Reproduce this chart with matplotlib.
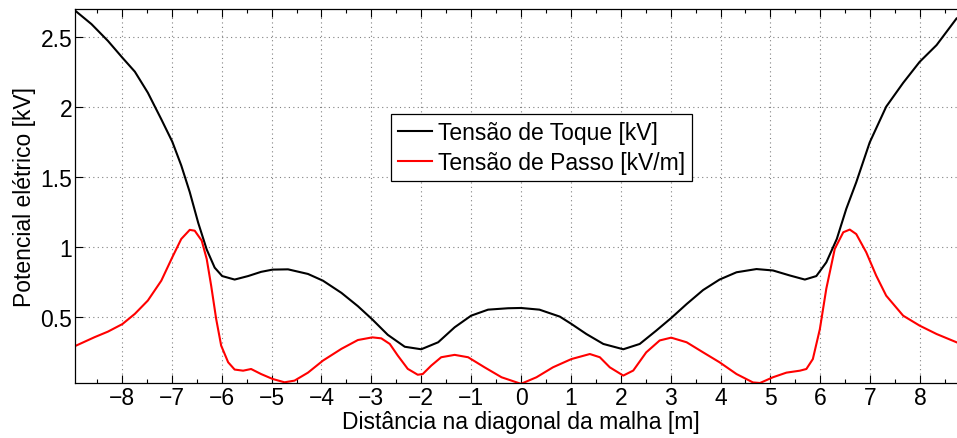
import numpy as np
import matplotlib
matplotlib.use('Agg')
import matplotlib.pyplot as plt
from matplotlib.ticker import MultipleLocator, FormatStrFormatter

plt.rcParams['font.family'] = ['Liberation Sans', 'DejaVu Sans']

# Tensao de toque [kV]
toque_x = [-8.95, -8.61, -8.28, -7.99, -7.74, -7.48, -7.21, -6.99, -6.81, -6.64,
           -6.47, -6.30, -6.14, -5.99, -5.74, -5.47, -5.21, -4.98, -4.67, -4.27,
           -3.97, -3.60, -3.27, -2.98, -2.67, -2.33, -2.00, -1.66, -1.33, -1.00,
           -0.66, -0.26, 0.00, 0.37, 0.78, 1.01, 1.31, 1.65, 2.05, 2.38,
           2.71, 3.01, 3.32, 3.65, 3.98, 4.32, 4.72, 5.05, 5.39, 5.69,
           5.92, 6.12, 6.33, 6.52, 6.72, 6.99, 7.32, 7.66, 7.99, 8.33,
           8.73]
toque_y = [2.69, 2.59, 2.47, 2.35, 2.25, 2.10, 1.91, 1.75, 1.58, 1.39,
           1.17, 0.98, 0.85, 0.79, 0.765, 0.79, 0.82, 0.836, 0.838, 0.805,
           0.757, 0.67, 0.575, 0.48, 0.37, 0.285, 0.267, 0.317, 0.424, 0.507,
           0.55, 0.56, 0.562, 0.55, 0.50, 0.448, 0.376, 0.305, 0.267, 0.305,
           0.40, 0.49, 0.59, 0.69, 0.765, 0.817, 0.84, 0.83, 0.794, 0.765,
           0.79, 0.888, 1.055, 1.27, 1.46, 1.745, 2.00, 2.17, 2.32, 2.44,
           2.63]

# Tensao de passo [kV/m]
passo_x = [-8.95, -8.55, -8.28, -7.99, -7.74, -7.48, -7.21, -6.99, -6.81, -6.64,
           -6.54, -6.40, -6.30, -6.21, -6.11, -6.01, -5.87, -5.74, -5.57, -5.41,
           -5.21, -4.98, -4.74, -4.54, -4.27, -3.97, -3.60, -3.27, -2.98, -2.80,
           -2.63, -2.47, -2.27, -2.07, -1.97, -1.80, -1.60, -1.33, -1.06, -0.73,
           -0.39, 0.00, 0.31, 0.64, 1.01, 1.38, 1.58, 1.78, 2.05, 2.25,
           2.51, 2.78, 3.01, 3.32, 3.65, 3.98, 4.32, 4.65, 4.79, 5.05,
           5.32, 5.59, 5.72, 5.85, 5.99, 6.12, 6.29, 6.46, 6.59, 6.72,
           6.92, 7.12, 7.32, 7.66, 7.99, 8.33, 8.73]
passo_y = [0.288, 0.353, 0.393, 0.447, 0.52, 0.615, 0.757, 0.924, 1.055, 1.12,
           1.114, 1.043, 0.912, 0.72, 0.483, 0.293, 0.174, 0.122, 0.114, 0.126,
           0.09, 0.055, 0.031, 0.043, 0.10, 0.186, 0.27, 0.333, 0.352, 0.345,
           0.305, 0.222, 0.127, 0.085, 0.09, 0.15, 0.21, 0.227, 0.21, 0.138,
           0.067, 0.02, 0.067, 0.138, 0.197, 0.233, 0.21, 0.138, 0.079, 0.115,
           0.245, 0.33, 0.35, 0.317, 0.245, 0.174, 0.09, 0.03, 0.026, 0.067,
           0.10, 0.114, 0.126, 0.197, 0.41, 0.70, 0.985, 1.103, 1.122, 1.09,
           0.96, 0.793, 0.65, 0.507, 0.436, 0.376, 0.317]

fs = 16.5

fig = plt.figure(figsize=(9.57, 4.39), dpi=100)
# eixo vai um pouco alem da borda direita (imagem cortada)
ax = fig.add_axes([75 / 957, 55 / 439, 892 / 957, 374.3 / 439])

ax.plot(toque_x, toque_y, color='black', lw=1.5, label='Tensão de Toque [kV]')
ax.plot(passo_x, passo_y, color='#ff0000', lw=1.5, label='Tensão de Passo [kV/m]')

ax.set_xlim(-8.94, 8.94)
ax.set_ylim(0.026, 2.70)
ax.xaxis.set_major_locator(MultipleLocator(1))
ax.xaxis.set_minor_locator(MultipleLocator(0.5))
ax.set_yticks([0.5, 1, 1.5, 2, 2.5])
ax.yaxis.set_major_formatter(FormatStrFormatter('%g'))

ax.grid(True, which='major', color='#808080', linestyle=(0, (1, 3)), lw=0.8)
ax.tick_params(which='both', direction='in', top=True, right=True, labelsize=fs, width=0.8)
ax.tick_params(which='major', length=6)
ax.tick_params(which='minor', length=3)
ax.tick_params(axis='x', pad=2)
ax.tick_params(axis='y', pad=2)
for s in ax.spines.values():
    s.set_linewidth(0.9)

ax.set_xlabel('Distância na diagonal da malha [m]', fontsize=fs, labelpad=1)
ax.set_ylabel('Potencial elétrico [kV]', fontsize=fs, labelpad=3)

leg = fig.legend(loc='upper left', bbox_to_anchor=(391 / 957, 1 - 115 / 439),
                 fontsize=fs, frameon=True, fancybox=False, framealpha=1,
                 edgecolor='black', borderpad=0.3, handlelength=1.5,
                 handletextpad=0.25, labelspacing=0.3, borderaxespad=0)
leg.get_frame().set_linewidth(0.9)

fig.savefig('out.png', dpi=100)
